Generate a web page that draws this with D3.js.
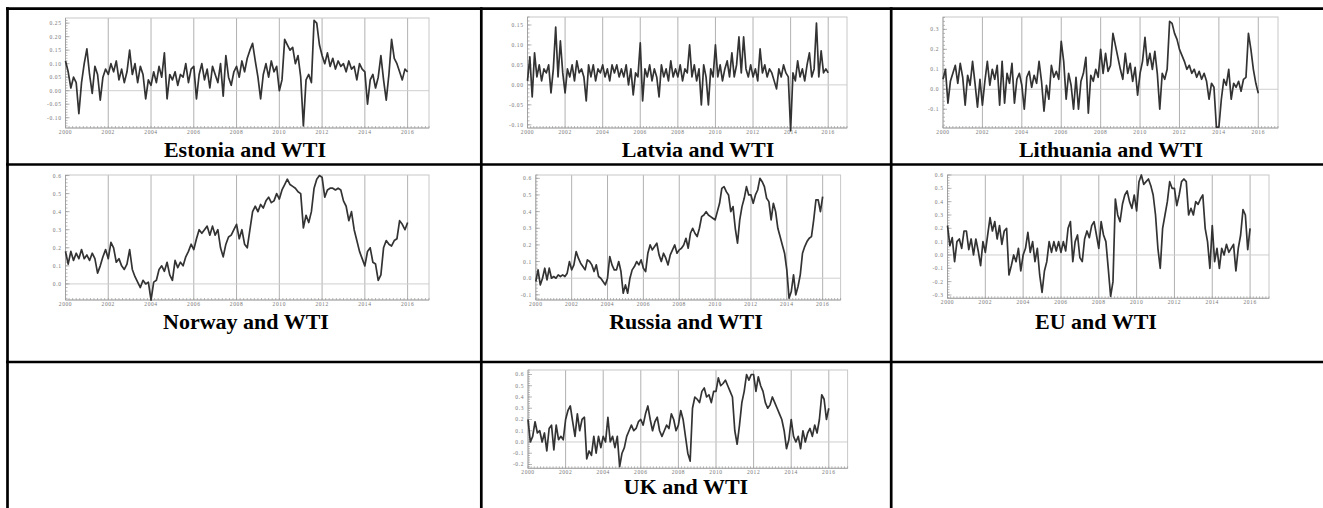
<!DOCTYPE html>
<html lang="en">
<head>
<meta charset="UTF-8">
<title>Rolling correlations with WTI</title>
<script src="https://d3js.org/d3.v7.min.js"></script>
<style>
  body { margin: 0; background: #fff; }
  .caption { font-family: "Liberation Serif", "Times New Roman", serif; font-weight: bold; font-size: 22px; fill: #000; }
  .tick-label { font-family: "Liberation Serif", serif; font-size: 5.5px; fill: #777; letter-spacing: 0.6px; }
  .frame { fill: none; stroke: #c8c8c8; stroke-width: 1; }
  .axis-line { stroke: #999; stroke-width: 0.8; }
  .minor { stroke: #999; stroke-width: 0.7; }
  .grid { stroke: #a8a8a8; stroke-width: 0.9; }
  .zero { stroke: #cfcfcf; stroke-width: 1; }
  .series { fill: none; stroke: #333; stroke-width: 1.7; stroke-linejoin: round; }
  .border { stroke: #000; stroke-width: 2.7; }
</style>
</head>
<body>
<script>
// series start in 2000 and are sampled every 1/8 of a year
const startYear = 2000;
const step = 0.125;

const captions = ["Estonia and WTI", "Latvia and WTI", "Lithuania and WTI",
                  "Norway and WTI", "Russia and WTI", "EU and WTI", "UK and WTI"];

const xTicks = [2000, 2002, 2004, 2006, 2008, 2010, 2012, 2014, 2016];

const estonia = [
  0.11, 0.07, 0.01, 0.05, 0.03, -0.085, 0.03, 0.10,
  0.155, 0.06, -0.01, 0.09, 0.06, -0.035, 0.05, 0.08,
  0.06, 0.10, 0.07, 0.11, 0.04, 0.08, 0.03, 0.07,
  0.15, 0.06, 0.10, 0.03, 0.09, 0.06, -0.03, 0.04,
  0.02, 0.07, 0.03, 0.09, 0.05, 0.14, -0.03, 0.06,
  0.04, 0.07, 0.02, 0.06, 0.05, 0.10, 0.03, 0.08,
  0.09, -0.03, 0.06, 0.10, 0.04, 0.08, 0.01, 0.09,
  0.06, 0.03, 0.10, -0.02, 0.13, 0.05, 0.02, 0.07,
  0.09, 0.05, 0.11, 0.07, 0.12, 0.15, 0.175, 0.11,
  0.05, -0.03, 0.06, 0.10, 0.05, 0.11, 0.07, 0.09,
  0.00, 0.04, 0.19, 0.17, 0.15, 0.16, 0.10, 0.13,
  0.05, -0.13, 0.04, 0.06, 0.03, 0.26, 0.25, 0.17,
  0.13, 0.10, 0.14, 0.09, 0.12, 0.08, 0.11, 0.09,
  0.10, 0.07, 0.11, 0.08, 0.09, 0.04, 0.10, 0.08,
  0.07, -0.05, 0.04, 0.06, 0.01, 0.05, 0.13, 0.04,
  -0.035, 0.06, 0.19, 0.12, 0.10, 0.07, 0.04, 0.08,
  0.07
];
const estoniaTicks = [-0.10, -0.05, 0.00, 0.05, 0.10, 0.15, 0.20, 0.25];

const latvia = [
  0.01, 0.07, -0.03, 0.08, 0.02, 0.05, 0.01, 0.04,
  0.03, 0.05, -0.02, 0.04, 0.145, 0.02, 0.11, 0.03,
  -0.02, 0.04, 0.02, 0.05, 0.01, 0.06, 0.03, 0.04,
  0.02, -0.04, 0.05, 0.02, 0.05, 0.01, 0.04, 0.03,
  0.05, 0.02, 0.04, 0.01, 0.05, 0.03, 0.05, 0.02,
  0.04, 0.02, 0.05, 0.00, 0.04, -0.025, 0.03, 0.02,
  0.105, -0.04, 0.04, 0.02, 0.05, 0.01, 0.04, 0.02,
  -0.03, 0.05, 0.02, 0.04, 0.01, 0.06, 0.02, 0.04,
  0.02, 0.05, 0.01, 0.04, 0.03, 0.10, 0.02, 0.05,
  0.01, 0.04, -0.05, 0.05, 0.02, -0.05, 0.04, 0.02,
  0.10, 0.02, 0.05, 0.01, 0.04, 0.06, 0.02, 0.08,
  0.02, 0.05, 0.12, 0.03, 0.12, 0.04, 0.02, 0.05,
  0.02, 0.04, 0.01, 0.09, 0.03, 0.05, 0.02, 0.04,
  0.03, 0.01, -0.01, 0.04, 0.02, 0.05, 0.03, 0.02,
  -0.115, 0.03, 0.01, 0.06, 0.02, 0.04, 0.01, 0.05,
  0.08, 0.02, 0.04, 0.155, 0.02, 0.085, 0.03, 0.04,
  0.03
];
const latviaTicks = [-0.10, -0.05, 0.00, 0.05, 0.10, 0.15];

const lithuania = [
  0.05, 0.10, -0.07, 0.04, 0.08, 0.12, 0.03, 0.13,
  0.06, -0.08, 0.07, 0.02, 0.14, 0.03, -0.09, 0.05,
  -0.08, 0.04, 0.14, 0.02, 0.10, 0.05, 0.12, -0.08,
  0.14, -0.07, 0.08, 0.03, 0.13, -0.07, 0.05, 0.08,
  0.02, -0.10, 0.06, 0.09, 0.01, 0.07, 0.03, 0.14,
  0.04, -0.11, 0.02, -0.05, 0.12, 0.06, 0.09, 0.05,
  0.24, 0.14, -0.05, 0.08, 0.02, -0.10, 0.06, -0.10,
  0.04, 0.08, 0.16, -0.12, 0.07, 0.04, 0.10, 0.06,
  0.20, 0.08, 0.18, 0.09, 0.12, 0.28, 0.22, 0.16,
  0.10, 0.05, 0.18, 0.08, 0.13, 0.04, 0.11, -0.03,
  0.08, 0.14, 0.26, 0.12, 0.18, 0.10, 0.19, 0.08,
  -0.10, 0.08, 0.05, 0.10, 0.34, 0.33, 0.28, 0.25,
  0.20, 0.17, 0.14, 0.10, 0.12, 0.08, 0.10, 0.06,
  0.09, 0.05, 0.08, 0.04, -0.05, 0.03, 0.01, -0.19,
  -0.19, -0.05, 0.05, 0.02, 0.10, -0.05, 0.03, 0.01,
  0.04, -0.01, 0.05, 0.06, 0.28, 0.20, 0.10, 0.03,
  -0.02
];
const lithuaniaTicks = [-0.1, 0.0, 0.1, 0.2, 0.3];

const norway = [
  0.18, 0.11, 0.18, 0.13, 0.17, 0.14, 0.19, 0.14,
  0.16, 0.13, 0.17, 0.14, 0.06, 0.10, 0.15, 0.19,
  0.14, 0.23, 0.20, 0.12, 0.14, 0.10, 0.08, 0.11,
  0.19, 0.08, 0.04, 0.01, -0.02, 0.02, 0.00, 0.01,
  -0.09, 0.01, 0.02, 0.08, 0.10, 0.07, 0.12, 0.05,
  0.02, 0.13, 0.09, 0.12, 0.10, 0.15, 0.18, 0.22,
  0.19, 0.25, 0.30, 0.28, 0.30, 0.32, 0.27, 0.32,
  0.27, 0.30, 0.20, 0.15, 0.22, 0.26, 0.27, 0.30,
  0.33, 0.25, 0.30, 0.22, 0.20, 0.30, 0.40, 0.43,
  0.40, 0.44, 0.42, 0.46, 0.48, 0.45, 0.46, 0.50,
  0.47, 0.52, 0.55, 0.58, 0.55, 0.54, 0.53, 0.51,
  0.50, 0.31, 0.38, 0.34, 0.40, 0.53, 0.58, 0.60,
  0.59, 0.48, 0.52, 0.53, 0.53, 0.52, 0.53, 0.52,
  0.46, 0.43, 0.35, 0.40, 0.30, 0.24, 0.18, 0.14,
  0.10, 0.18, 0.20, 0.12, 0.11, 0.02, 0.05, 0.20,
  0.24, 0.22, 0.21, 0.24, 0.25, 0.35, 0.33, 0.30,
  0.34
];
const norwayTicks = [0.0, 0.1, 0.2, 0.3, 0.4, 0.5, 0.6];

const russia = [
  -0.02, 0.05, -0.04, 0.00, 0.06, -0.01, 0.06, 0.00,
  0.01, 0.00, 0.02, 0.01, 0.02, 0.01, 0.03, 0.10,
  0.05, 0.08, 0.16, 0.12, 0.09, 0.07, 0.05, 0.11,
  0.10, 0.08, 0.04, 0.08, 0.01, 0.00, -0.02, -0.04,
  0.00, 0.13, 0.08, 0.05, 0.05, 0.10, 0.04, -0.09,
  -0.04, -0.09, 0.00, 0.05, 0.07, 0.10, 0.08, 0.11,
  0.06, 0.04, 0.15, 0.20, 0.17, 0.19, 0.21, 0.14,
  0.10, 0.15, 0.12, 0.08, 0.14, 0.17, 0.20, 0.15,
  0.17, 0.18, 0.20, 0.24, 0.18, 0.27, 0.30, 0.27,
  0.25, 0.30, 0.37, 0.38, 0.40, 0.38, 0.37, 0.36,
  0.35, 0.40, 0.45, 0.54, 0.55, 0.52, 0.50, 0.40,
  0.43, 0.30, 0.21, 0.35, 0.43, 0.48, 0.55, 0.50,
  0.50, 0.45, 0.50, 0.53, 0.60, 0.58, 0.55, 0.48,
  0.46, 0.35, 0.45, 0.40, 0.30, 0.25, 0.20, 0.15,
  0.05, -0.12, -0.08, 0.02, -0.10, -0.05, 0.02, 0.15,
  0.19, 0.22, 0.24, 0.25, 0.35, 0.47, 0.47, 0.40,
  0.49
];
const russiaTicks = [-0.1, 0.0, 0.1, 0.2, 0.3, 0.4, 0.5, 0.6];

const eu = [
  0.22, 0.07, 0.13, -0.05, 0.10, 0.12, 0.05, 0.18,
  0.18, 0.04, 0.12, 0.00, 0.12, 0.03, -0.08, 0.10,
  0.02, 0.15, 0.28, 0.18, 0.25, 0.12, 0.22, 0.08,
  0.18, 0.20, -0.15, -0.08, 0.00, -0.05, 0.05, -0.12,
  0.00, 0.05, 0.17, 0.02, 0.10, -0.05, 0.05, -0.15,
  -0.28, -0.12, -0.05, 0.10, 0.02, 0.10, 0.03, 0.10,
  0.02, 0.10, 0.03, 0.20, 0.25, -0.05, 0.10, 0.15,
  -0.02, -0.05, 0.12, 0.18, 0.13, 0.22, 0.25, 0.15,
  0.05, 0.25, 0.15, 0.10, -0.10, -0.31, -0.20, 0.42,
  0.30, 0.25, 0.38, 0.45, 0.48, 0.40, 0.35, 0.45,
  0.33, 0.55, 0.60, 0.53, 0.55, 0.57, 0.52, 0.45,
  0.30, 0.05, -0.10, 0.20, 0.30, 0.40, 0.55, 0.50,
  0.50, 0.37, 0.45, 0.55, 0.57, 0.55, 0.30, 0.35,
  0.30, 0.40, 0.38, 0.42, 0.45, 0.20, 0.10, -0.10,
  0.22, -0.05, 0.05, -0.10, 0.05, 0.00, 0.08, 0.02,
  0.05, 0.08, -0.12, 0.05, 0.15, 0.34, 0.30, 0.04,
  0.20
];
const euTicks = [-0.3, -0.2, -0.1, 0.0, 0.1, 0.2, 0.3, 0.4, 0.5, 0.6];

const uk = [
  0.20, 0.00, 0.05, 0.18, 0.08, 0.10, 0.00, 0.08,
  -0.08, 0.12, 0.15, -0.07, 0.15, 0.02, 0.05, 0.02,
  0.20, 0.28, 0.32, 0.18, 0.05, 0.25, 0.10, 0.20,
  0.22, -0.15, -0.08, -0.12, 0.05, -0.10, 0.05, -0.05,
  0.05, 0.00, 0.22, 0.00, 0.05, -0.05, 0.05, -0.22,
  -0.10, -0.05, 0.05, 0.10, 0.15, 0.10, 0.12, 0.18,
  0.20, 0.15, 0.25, 0.32, 0.20, 0.10, 0.18, 0.22,
  0.10, 0.05, 0.10, 0.15, 0.12, 0.25, 0.20, 0.10,
  0.15, 0.28, 0.20, 0.05, -0.10, -0.17, 0.30, 0.40,
  0.38, 0.35, 0.45, 0.48, 0.40, 0.42, 0.35, 0.45,
  0.45, 0.57, 0.50, 0.52, 0.55, 0.50, 0.45, 0.40,
  0.10, -0.02, 0.15, 0.35, 0.45, 0.60, 0.55, 0.60,
  0.60, 0.45, 0.58, 0.50, 0.45, 0.35, 0.30, 0.33,
  0.40, 0.35, 0.30, 0.25, 0.20, 0.10, -0.06, 0.02,
  0.20, 0.05, 0.00, 0.05, -0.06, 0.10, 0.00, 0.08,
  0.12, 0.05, 0.15, 0.08, 0.20, 0.42, 0.38, 0.20,
  0.30
];
const ukTicks = [-0.2, -0.1, 0.0, 0.1, 0.2, 0.3, 0.4, 0.5, 0.6];

// where each small chart sits on the page (plot box in px, y range shown)
const layout = [
  {values: estonia,   ticks: estoniaTicks,   dec: 2, left: 65.5,  right: 429,   top: 18,  bottom: 128,   yMin: -0.138, yMax: 0.269, capX: 245,  capY: 157},
  {values: latvia,    ticks: latviaTicks,    dec: 2, left: 527.5, right: 847,   top: 17,  bottom: 128,   yMin: -0.108, yMax: 0.17,  capX: 698,  capY: 157},
  {values: lithuania, ticks: lithuaniaTicks, dec: 1, left: 943,   right: 1278,  top: 17,  bottom: 128,   yMin: -0.194, yMax: 0.362, capX: 1111, capY: 157},
  {values: norway,    ticks: norwayTicks,    dec: 1, left: 65.5,  right: 429,   top: 175, bottom: 300,   yMin: -0.089, yMax: 0.603, capX: 246,  capY: 329},
  {values: russia,    ticks: russiaTicks,    dec: 1, left: 535.8, right: 840.6, top: 175, bottom: 300,   yMin: -0.131, yMax: 0.62,  capX: 686,  capY: 329},
  {values: eu,        ticks: euTicks,        dec: 1, left: 947.5, right: 1269,  top: 175, bottom: 298.3, yMin: -0.325, yMax: 0.6,   capX: 1096, capY: 329},
  {values: uk,        ticks: ukTicks,        dec: 1, left: 528,   right: 847.6, top: 370, bottom: 468.3, yMin: -0.234, yMax: 0.64,  capX: 686,  capY: 494}
];

const W = 1323, H = 508;
const svg = d3.select("body").append("svg")
    .attr("width", W)
    .attr("height", H);

const fmt = (v, dec) => (v < 0 ? "-" : "") + Math.abs(v).toFixed(dec);

layout.forEach((p, k) => {
    const x = d3.scaleLinear().domain([2000, 2017]).range([p.left, p.right]);
    const y = d3.scaleLinear().domain([p.yMin, p.yMax]).range([p.bottom, p.top]);
    const g = svg.append("g");

    // even-year grid lines
    g.selectAll(".grid")
        .data(xTicks.filter(t => t > 2000))
        .enter().append("line")
        .attr("class", "grid")
        .attr("x1", d => x(d)).attr("x2", d => x(d))
        .attr("y1", p.top).attr("y2", p.bottom);

    // zero line
    g.append("line")
        .attr("class", "zero")
        .attr("x1", p.left).attr("x2", p.right)
        .attr("y1", y(0)).attr("y2", y(0));

    g.append("rect")
        .attr("class", "frame")
        .attr("x", p.left).attr("y", p.top)
        .attr("width", p.right - p.left).attr("height", p.bottom - p.top);

    // left axis with minor ticks
    g.append("line").attr("class", "axis-line")
        .attr("x1", p.left).attr("x2", p.left).attr("y1", p.top).attr("y2", p.bottom);
    const major = p.ticks[1] - p.ticks[0];
    const yMinor = d3.range(Math.ceil(p.yMin / (major / 5)), Math.floor(p.yMax / (major / 5)) + 1)
        .map(i => i * major / 5);
    g.selectAll(".yminor")
        .data(yMinor)
        .enter().append("line")
        .attr("class", "minor")
        .attr("x1", p.left).attr("x2", p.left + 2)
        .attr("y1", d => y(d)).attr("y2", d => y(d));
    g.selectAll(".ymajor")
        .data(p.ticks)
        .enter().append("line")
        .attr("class", "minor")
        .attr("x1", p.left).attr("x2", p.left + 4)
        .attr("y1", d => y(d)).attr("y2", d => y(d));
    g.selectAll(".ylab")
        .data(p.ticks)
        .enter().append("text")
        .attr("class", "tick-label")
        .attr("x", p.left - 4)
        .attr("y", d => y(d) + 2)
        .attr("text-anchor", "end")
        .text(d => fmt(d, p.dec));

    // bottom axis with two-monthly ticks
    g.append("line").attr("class", "axis-line")
        .attr("x1", p.left).attr("x2", p.right).attr("y1", p.bottom).attr("y2", p.bottom);
    g.selectAll(".xminor")
        .data(d3.range(0, 17 * 6 + 1).map(i => 2000 + i / 6))
        .enter().append("line")
        .attr("class", "minor")
        .attr("x1", d => x(d)).attr("x2", d => x(d))
        .attr("y1", p.bottom).attr("y2", p.bottom - 2);
    g.selectAll(".xlab")
        .data(xTicks)
        .enter().append("text")
        .attr("class", "tick-label")
        .attr("x", d => x(d))
        .attr("y", p.bottom + 6)
        .attr("text-anchor", "middle")
        .text(d => d);

    // the correlation series
    const line = d3.line()
        .x((d, i) => x(startYear + i * step))
        .y(d => y(d));
    g.append("path")
        .datum(p.values)
        .attr("class", "series")
        .attr("d", line);

    g.append("text")
        .attr("class", "caption")
        .attr("x", p.capX)
        .attr("y", p.capY)
        .attr("text-anchor", "middle")
        .text(captions[k]);
});

// table borders
const hBorders = [8.7, 164.5, 362];
const vBorders = [7.5, 481.3, 891.2];
svg.selectAll(".hb")
    .data(hBorders)
    .enter().append("line")
    .attr("class", "border")
    .attr("x1", 6).attr("x2", W)
    .attr("y1", d => d).attr("y2", d => d);
svg.selectAll(".vb")
    .data(vBorders)
    .enter().append("line")
    .attr("class", "border")
    .attr("x1", d => d).attr("x2", d => d)
    .attr("y1", 7.35).attr("y2", H);
</script>
</body>
</html>
